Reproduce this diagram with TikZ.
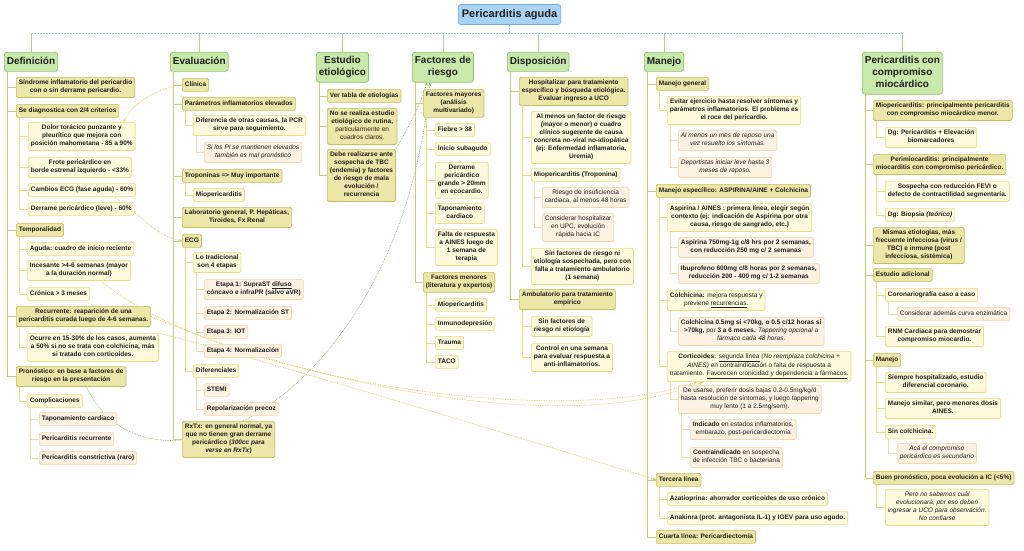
\documentclass[tikz,border=0pt]{standalone}
\usepackage{fontspec}
\setmainfont{Liberation Sans}
\usepackage{tikz}
\usetikzlibrary{arrows.meta}
\pgfdeclarelayer{back}
\pgfsetlayers{back,main}
\definecolor{rootF}{HTML}{A9D3F5}
\definecolor{rootB}{HTML}{6DAEE6}
\definecolor{catF}{HTML}{C8E9A9}
\definecolor{catB}{HTML}{8CC763}
\definecolor{lvAF}{HTML}{ECE6A8}
\definecolor{lvAB}{HTML}{C9BD5E}
\definecolor{lvBF}{HTML}{FFF9DD}
\definecolor{lvBB}{HTML}{F0DB7A}
\definecolor{lvCF}{HTML}{FDF2E2}
\definecolor{lvCB}{HTML}{F3D8AA}
\definecolor{hubC}{HTML}{9DC8E3}
\definecolor{stemC}{HTML}{A7D98A}
\definecolor{linkYC}{HTML}{E3CB4E}
\definecolor{linkGC}{HTML}{86BE55}
\definecolor{inkC}{HTML}{1E1E1E}
\tikzset{
  box/.style={rounded corners=1.5pt, line width=0.7pt, inner xsep=2.5pt, inner ysep=2.5pt, anchor=north west, align=center, text=inkC,
    font=\fontsize{6.5}{8}\selectfont\bfseries\strut},
  cat/.style={box, draw=catB, fill=catF, rounded corners=2.5pt, inner ysep=3.5pt, font=\fontsize{10}{12}\selectfont\bfseries\strut},
  lvA/.style={box, draw=lvAB, fill=lvAF},
  lvB/.style={box, draw=lvBB, fill=lvBF},
  lvC/.style={box, draw=lvCB, fill=lvCF},
  root/.style={box, anchor=center, draw=rootB, fill=rootF, rounded corners=2.5pt, inner xsep=3.5pt, inner ysep=3.5pt, font=\fontsize{11}{13}\selectfont\bfseries\strut},
  trunk/.style={draw=lvAB!85, line width=0.7pt},
  twig/.style={draw=lvBB, line width=0.7pt},
  leaf/.style={draw=lvCB, line width=0.7pt},
  hubline/.style={draw=hubC, line width=0.8pt, dash pattern=on 2pt off 1pt},
  catline/.style={draw=stemC, line width=0.8pt},
  linkY/.style={draw=linkYC, line width=0.7pt, densely dotted, -{Stealth[length=3.5pt,width=3pt]}},
  linkG/.style={draw=linkGC, line width=0.7pt, densely dotted, -{Stealth[length=3.5pt,width=3pt]}},
}
\begin{document}
\begin{tikzpicture}[x=1pt, y=-1pt]
\useasboundingbox (0,0) rectangle (1024,550);

% centro
\node[root] (pa) at (509.5,14.5) {Pericarditis aguda};

% ramas principales
\node[cat] (defi) at (4,52) {Definición};
\node[cat] (eval) at (170,52) {Evaluación};
\node[cat] (etio) at (316,52) {Estudio\\etiológico};
\node[cat] (facr) at (412,52) {Factores de\\riesgo};
\node[cat] (disp) at (507,52) {Disposición};
\node[cat] (mane) at (644,52) {Manejo};
\node[cat] (pcm) at (862,52) {Pericarditis con\\compromiso\\miocárdico};

\coordinate (hub) at (509.5,33);
\draw[hubline] (pa.south) -- (hub);
\draw[hubline] (defi.north |- hub) -- (pcm.north |- hub);
\draw[catline] (defi.north |- hub) -- (defi.north);
\draw[catline] (eval.north |- hub) -- (eval.north);
\draw[catline] (etio.north |- hub) -- (etio.north);
\draw[catline] (facr.north |- hub) -- (facr.north);
\draw[catline] (disp.north |- hub) -- (disp.north);
\draw[catline] (mane.north |- hub) -- (mane.north);
\draw[catline] (pcm.north |- hub) -- (pcm.north);

% Definicion
\node[lvA] (sind) at (16,77) {Síndrome inflamatorio del pericardio\\con o sin derrame pericardio.};
\node[lvA] (sedi) at (16,104) {Se diagnostica con 2/4 criterios};
\node[lvB] (dolo) at (28,122) {Dolor torácico punzante y\\pleurítico que mejora con\\posición mahometana - 85 a 90\%};
\node[lvB] (frot) at (28,157) {Frote pericárdico en\\borde estrenal izquierdo - <33\%};
\node[lvB] (cecg) at (28,183) {Cambios ECG (fase aguda) - 60\%};
\node[lvB] (derr) at (28,202) {Derrame pericárdico (leve) - 60\%};
\node[lvA] (temp) at (16,223) {Temporalidad};
\node[lvB] (agud) at (27,242) {Aguda: cuadro de inicio reciente};
\node[lvB] (ince) at (27,260) {Incesante >4-6 semanas (mayor\\a la duración normal)};
\node[lvB] (cron) at (27,287) {Crónica > 3 meses};
\node[lvA] (recu) at (16,306) {Recurrente: reaparición de una\\pericarditis curada luego de 4-6 semanas.};
\node[lvB] (ocur) at (27,333) {Ocurre en 15-30\% de los casos, aumenta\\a 50\% si no se trata con colchicina, más\\si tratado con corticoides.};
\node[lvA] (pron) at (16,366) {Pronóstico: en base a factores de\\riesgo en la presentación};
\node[lvB] (comp) at (27,394) {Complicaciones};
\node[lvC] (tapo) at (39,412) {Taponamiento cardiaco};
\node[lvC] (prec) at (39,432) {Pericarditis recurrente};
\node[lvC] (pcon) at (39,451) {Pericarditis constrictiva (raro)};

\draw[trunk] ([xshift=3pt]defi.south west) |- (sind.west);
\draw[trunk] ([xshift=3pt]defi.south west) |- (sedi.west);
\draw[trunk] ([xshift=3pt]defi.south west) |- (temp.west);
\draw[trunk] ([xshift=3pt]defi.south west) |- (recu.west);
\draw[trunk] ([xshift=3pt]defi.south west) |- (pron.west);
\draw[twig] ([xshift=3pt]sedi.south west) |- (dolo.west);
\draw[twig] ([xshift=3pt]sedi.south west) |- (frot.west);
\draw[twig] ([xshift=3pt]sedi.south west) |- (cecg.west);
\draw[twig] ([xshift=3pt]sedi.south west) |- (derr.west);
\draw[twig] ([xshift=3pt]temp.south west) |- (agud.west);
\draw[twig] ([xshift=3pt]temp.south west) |- (ince.west);
\draw[twig] ([xshift=3pt]temp.south west) |- (cron.west);
\draw[twig] ([xshift=3pt]recu.south west) |- (ocur.west);
\draw[twig] ([xshift=3pt]pron.south west) |- (comp.west);
\draw[leaf] ([xshift=3pt]comp.south west) |- (tapo.west);
\draw[leaf] ([xshift=3pt]comp.south west) |- (prec.west);
\draw[leaf] ([xshift=3pt]comp.south west) |- (pcon.west);

% Evaluacion
\node[lvA] (clin) at (182,78) {Clínica};
\node[lvA] (pinf) at (182,97) {Parámetros inflamatorios elevados};
\node[lvB] (dife) at (193,115) {Diferencia de otras causas, la PCR\\sirve para seguimiento.};
\node[lvC] (sipi) at (204,142) {\mdseries\itshape Si los PI se mantienen elevados\\\mdseries\itshape también es mal pronóstico};
\node[lvA] (trop) at (182,169) {Troponinas => Muy importante};
\node[lvB] (miop) at (193,188) {Miopericarditis};
\node[lvA] (labo) at (182,207) {Laboratorio general, P. Hepáticas,\\Tiroides, Fx Renal};
\node[lvA] (ecg) at (182,234) {ECG};
\node[lvB] (trad) at (193,252) {Lo tradicional\\son 4 etapas};
\node[lvC] (eta1) at (204,279) {Etapa 1: SupraST \underline{difuso}\\cóncavo e infraPR (salvo aVR)};
\node[lvC] (eta2) at (204,306) {Etapa 2: Normalización ST};
\node[lvC] (eta3) at (204,325) {Etapa 3: IOT};
\node[lvC] (eta4) at (204,344) {Etapa 4: Normalización};
\node[lvB] (difr) at (193,364) {Diferenciales};
\node[lvC] (stem) at (204,383) {STEMI};
\node[lvC] (repo) at (204,402) {Repolarización precoz};
\node[lvA] (rxtx) at (182,421) {RxTx: en general normal, ya\\que no tienen gran derrame\\pericárdico (\textit{300cc para}\\\textit{verse en RxTx})};

\draw[trunk] ([xshift=3pt]eval.south west) |- (clin.west);
\draw[trunk] ([xshift=3pt]eval.south west) |- (pinf.west);
\draw[trunk] ([xshift=3pt]eval.south west) |- (trop.west);
\draw[trunk] ([xshift=3pt]eval.south west) |- (labo.west);
\draw[trunk] ([xshift=3pt]eval.south west) |- (ecg.west);
\draw[trunk] ([xshift=3pt]eval.south west) |- (rxtx.west);
\draw[twig] ([xshift=3pt]pinf.south west) |- (dife.west);
\draw[leaf] ([xshift=3pt]dife.south west) |- (sipi.west);
\draw[twig] ([xshift=3pt]trop.south west) |- (miop.west);
\draw[twig] ([xshift=3pt]ecg.south west) |- (trad.west);
\draw[twig] ([xshift=3pt]ecg.south west) |- (difr.west);
\draw[leaf] ([xshift=3pt]trad.south west) |- (eta1.west);
\draw[leaf] ([xshift=3pt]trad.south west) |- (eta2.west);
\draw[leaf] ([xshift=3pt]trad.south west) |- (eta3.west);
\draw[leaf] ([xshift=3pt]trad.south west) |- (eta4.west);
\draw[leaf] ([xshift=3pt]difr.south west) |- (stem.west);
\draw[leaf] ([xshift=3pt]difr.south west) |- (repo.west);

% Estudio etiologico
\node[lvA] (vert) at (327,89) {Ver tabla de etiologías};
\node[lvA] (nose) at (327,108) {No se realiza estudio\\etiológico de rutina,\\\mdseries particularmente en\\\mdseries cuadros claros.};
\node[lvA] (debe) at (327,149) {Debe realizarse ante\\sospecha de TBC\\(endemia) y factores\\de riesgo de mala\\evolución /\\recurrencia};

\draw[trunk] ([xshift=3pt]etio.south west) |- (vert.west);
\draw[trunk] ([xshift=3pt]etio.south west) |- (nose.west);
\draw[trunk] ([xshift=3pt]etio.south west) |- (debe.west);

% Factores de riesgo
\node[lvA] (fmay) at (423,89) {Factores mayores\\(análisis\\multivariado)};
\node[lvB] (fieb) at (435,123) {Fiebre > 38};
\node[lvB] (inic) at (435,142) {Inicio subagudo};
\node[lvB] (dpgr) at (435,162) {Derrame\\pericárdico\\grande > 20mm\\en ecocardio.};
\node[lvB] (tapc) at (435,203) {Taponamiento\\cardiaco};
\node[lvB] (falt) at (435,229) {Falta de respuesta\\a AINES luego de\\1 semana de\\terapia};
\node[lvA] (fmen) at (423,272) {Factores menores\\(literatura y expertos)};
\node[lvB] (mioc) at (435,298) {Miopericarditis};
\node[lvB] (inmu) at (435,317) {Inmunodepresión};
\node[lvB] (trau) at (435,336) {Trauma};
\node[lvB] (taco) at (435,355) {TACO};

\draw[trunk] ([xshift=3pt]facr.south west) |- (fmay.west);
\draw[trunk] ([xshift=3pt]facr.south west) |- (fmen.west);
\draw[twig] ([xshift=3pt]fmay.south west) |- (fieb.west);
\draw[twig] ([xshift=3pt]fmay.south west) |- (inic.west);
\draw[twig] ([xshift=3pt]fmay.south west) |- (dpgr.west);
\draw[twig] ([xshift=3pt]fmay.south west) |- (tapc.west);
\draw[twig] ([xshift=3pt]fmay.south west) |- (falt.west);
\draw[twig] ([xshift=3pt]fmen.south west) |- (mioc.west);
\draw[twig] ([xshift=3pt]fmen.south west) |- (inmu.west);
\draw[twig] ([xshift=3pt]fmen.south west) |- (trau.west);
\draw[twig] ([xshift=3pt]fmen.south west) |- (taco.west);

% Disposicion
\node[lvA] (hosp) at (519,77) {Hospitalizar para tratamiento\\específico y búsqueda etiológica.\\Evaluar ingreso a UCO};
\node[lvB] (almn) at (531,111) {Al menos un factor de riesgo\\(mayor o menor) o cuadro\\clínico sugerente de causa\\concreta no-viral no-idiopática\\(ej: Enfermedad inflamatoria,\\Uremia)};
\node[lvB] (mtro) at (531,168) {Miopericarditis (Troponina)};
\node[lvC] (ries) at (542,187) {\mdseries Riesgo de insuficiencia\\\mdseries cardiaca, al menos 48 horas};
\node[lvC] (cons) at (542,213) {\mdseries Considerar hospitalizar\\\mdseries en UPC, evolución\\\mdseries rápida hacia IC};
\node[lvB] (sinf) at (531,248) {Sin factores de riesgo ni\\etiología sospechada, pero con\\falla a tratamiento ambulatorio\\(1 semana)};
\node[lvA] (ambu) at (519,289) {Ambulatorio para tratamiento\\empírico};
\node[lvB] (sfre) at (531,316) {Sin factores de\\riesgo ni etiología};
\node[lvB] (ctrl) at (531,343) {Control en una semana\\para evaluar respuesta a\\anti-inflamatorios.};

\draw[trunk] ([xshift=3pt]disp.south west) |- (hosp.west);
\draw[trunk] ([xshift=3pt]disp.south west) |- (ambu.west);
\draw[twig] ([xshift=3pt]hosp.south west) |- (almn.west);
\draw[twig] ([xshift=3pt]hosp.south west) |- (mtro.west);
\draw[twig] ([xshift=3pt]hosp.south west) |- (sinf.west);
\draw[leaf] ([xshift=3pt]mtro.south west) |- (ries.west);
\draw[leaf] ([xshift=3pt]mtro.south west) |- (cons.west);
\draw[twig] ([xshift=3pt]ambu.south west) |- (sfre.west);
\draw[twig] ([xshift=3pt]ambu.south west) |- (ctrl.west);

% Manejo
\node[lvA] (mgen) at (656,77) {Manejo general};
\node[lvB] (evit) at (667,96) {Evitar ejercicio hasta resolver síntomas y\\parámetros inflamatorios. El problema es\\el roce del pericardio.};
\node[lvC] (unme) at (678,130) {\mdseries\itshape Al menos un mes de reposo una\\\mdseries\itshape vez resuelto los síntomas.};
\node[lvC] (depo) at (678,157) {\mdseries\itshape Deportistas iniciar leve hasta 3\\\mdseries\itshape meses de reposo.};
\node[lvA] (mesp) at (656,184) {Manejo específico: ASPIRINA/AINE + Colchicina};
\node[lvB] (aspi) at (667,203) {Aspirina / AINES : primera línea, elegir según\\contexto (ej: indicación de Aspirina por otra\\causa, riesgo de sangrado, etc.)};
\node[lvC] (a750) at (678,237) {Aspirina 750mg-1g c/8 hrs por 2 semanas,\\con reducción 250 mg c/ 2 semanas};
\node[lvC] (ibup) at (678,263) {Ibuprofeno 600mg c/8 horas por 2 semanas,\\reducción 200 - 400 mg c/ 1-2 semanas};
\node[lvB] (colc) at (667,290) {Colchicina: {\mdseries mejora respuesta y}\\\mdseries previene \underline{recurrencias}.};
\node[lvC] (c05) at (678,317) {Colchicina 0.5mg si <70kg, o 0.5 c/12 horas si\\>70kg, {\mdseries por} 3 a 6 meses. {\mdseries\itshape Tappering opcional a}\\\mdseries\itshape fármaco cada 48 horas.};
\node[lvB] (cort) at (667,351) {Corticoides: {\mdseries\underline{segunda línea} \textit{(No reemplaza colchicina +}}\\\mdseries\textit{AINES)} en contraindicación o falta de respuesta a\\\mdseries tratamiento. \underline{Favorecen cronicidad y dependencia a fármacos}.};
\node[lvC] (dosi) at (678,385) {\mdseries De usarse, preferir dosis bajas 0.2-0.5mg/kg/d\\\mdseries hasta resolución de síntomas, y luego tappering\\\mdseries muy lento (1 a 2.5mg/sem).};
\node[lvC] (indi) at (690,419) {Indicado {\mdseries en estados inflamatorios,}\\\mdseries embarazo, post-pericardiectomía};
\node[lvC] (cind) at (690,447) {Contraindicado {\mdseries en sospecha}\\\mdseries de infección TBC o bacteriana};
\node[lvA] (terc) at (656,473) {Tercera línea};
\node[lvB] (azat) at (667,492) {Azatioprina: ahorrador corticoides de uso crónico};
\node[lvB] (anak) at (667,511) {Anakinra (prot. antagonista IL-1) y IGEV para uso agudo.};
\node[lvA] (cuar) at (656,530) {Cuarta línea: Pericardiectomía};

\draw[trunk] ([xshift=3pt]mane.south west) |- (mgen.west);
\draw[trunk] ([xshift=3pt]mane.south west) |- (mesp.west);
\draw[trunk] ([xshift=3pt]mane.south west) |- (terc.west);
\draw[trunk] ([xshift=3pt]mane.south west) |- (cuar.west);
\draw[twig] ([xshift=3pt]mgen.south west) |- (evit.west);
\draw[leaf] ([xshift=3pt]evit.south west) |- (unme.west);
\draw[leaf] ([xshift=3pt]evit.south west) |- (depo.west);
\draw[twig] ([xshift=3pt]mesp.south west) |- (aspi.west);
\draw[twig] ([xshift=3pt]mesp.south west) |- (colc.west);
\draw[twig] ([xshift=3pt]mesp.south west) |- (cort.west);
\draw[leaf] ([xshift=3pt]aspi.south west) |- (a750.west);
\draw[leaf] ([xshift=3pt]aspi.south west) |- (ibup.west);
\draw[leaf] ([xshift=3pt]colc.south west) |- (c05.west);
\draw[leaf] ([xshift=3pt]cort.south west) |- (dosi.west);
\draw[leaf] ([xshift=3pt]dosi.south west) |- (indi.west);
\draw[leaf] ([xshift=3pt]dosi.south west) |- (cind.west);
\draw[twig] ([xshift=3pt]terc.south west) |- (azat.west);
\draw[twig] ([xshift=3pt]terc.south west) |- (anak.west);

% Pericarditis con compromiso miocardico
\node[lvA] (miop2) at (873,100) {Miopericarditis: principalmente pericarditis\\con compromiso miocárdico menor.};
\node[lvB] (dgpe) at (885,127) {Dg: Pericarditis + Elevación\\biomarcadores};
\node[lvA] (peri2) at (873,154) {Perimiocarditis: principalmente\\miocarditis con compromiso pericárdico.};
\node[lvB] (sosp) at (885,181) {Sospecha con reducción FEVI o\\defecto de contractilidad segmentaría.};
\node[lvB] (dgbi) at (885,208) {Dg: Biopsia \textit{(teórico)}};
\node[lvA] (mism) at (873,227) {Mismas etiologías, más\\frecuente infecciosa (virus /\\TBC) e inmune (post\\infecciosa, sistémica)};
\node[lvA] (esad) at (873,268) {Estudio adicional};
\node[lvB] (coro) at (885,288) {Coronariografía caso a caso};
\node[lvC] (cenz) at (897,307) {\mdseries Considerar además curva enzimática};
\node[lvB] (rnmc) at (885,326) {RNM Cardiaca para demostrar\\compromiso miocardio.};
\node[lvA] (mnj2) at (873,353) {Manejo};
\node[lvB] (siem) at (885,372) {Siempre hospitalizado, estudio\\diferencial coronario.};
\node[lvB] (msim) at (885,398) {Manejo similar, pero menores dosis\\AINES.};
\node[lvB] (sinc) at (885,425) {Sin colchicina.};
\node[lvC] (acae) at (897,443) {\mdseries\itshape Acá el compromiso\\\mdseries\itshape pericárdico es secundario};
\node[lvA] (buen) at (873,471) {Buen pronóstico, poca evolución a IC (<5\%)};
\node[lvB] (pero) at (885,489) {\mdseries\itshape Pero no sabemos cuál\\\mdseries\itshape evolucionará, por eso deben\\\mdseries\itshape ingresar a UCO para observación.\\\mdseries\itshape No confiarse};

\draw[trunk] ([xshift=3pt]pcm.south west) |- (miop2.west);
\draw[trunk] ([xshift=3pt]pcm.south west) |- (peri2.west);
\draw[trunk] ([xshift=3pt]pcm.south west) |- (mism.west);
\draw[trunk] ([xshift=3pt]pcm.south west) |- (esad.west);
\draw[trunk] ([xshift=3pt]pcm.south west) |- (mnj2.west);
\draw[trunk] ([xshift=3pt]pcm.south west) |- (buen.west);
\draw[twig] ([xshift=3pt]miop2.south west) |- (dgpe.west);
\draw[twig] ([xshift=3pt]peri2.south west) |- (sosp.west);
\draw[twig] ([xshift=3pt]peri2.south west) |- (dgbi.west);
\draw[twig] ([xshift=3pt]esad.south west) |- (coro.west);
\draw[twig] ([xshift=3pt]esad.south west) |- (rnmc.west);
\draw[leaf] ([xshift=3pt]coro.south west) |- (cenz.west);
\draw[twig] ([xshift=3pt]mnj2.south west) |- (siem.west);
\draw[twig] ([xshift=3pt]mnj2.south west) |- (msim.west);
\draw[twig] ([xshift=3pt]mnj2.south west) |- (sinc.west);
\draw[leaf] ([xshift=3pt]sinc.south west) |- (acae.west);
\draw[twig] ([xshift=3pt]buen.south west) |- (pero.west);

% relaciones
\begin{pgfonlayer}{back}
\fill[white] (0,0) rectangle (1024,550);
\draw[linkY] (clin.west) .. controls (160,88) and (135,100) .. ([xshift=-12pt]dolo.north east);
\draw[linkY] ([xshift=-22pt]cecg.south east) .. controls (140,215) and (160,238) .. (ecg.west);
\draw[linkY] ([xshift=-30pt]ince.south east) .. controls (220,380) and (560,430) .. ([xshift=30pt]cort.south west);
\draw[linkY] (recu.east) .. controls (300,380) and (560,440) .. ([xshift=36pt]cort.south west);
\draw[linkY] (ocur.north east) .. controls (300,370) and (560,450) .. (terc.west);
\draw[linkG] ([xshift=-40pt]pron.south east) .. controls (150,520) and (400,400) .. ([xshift=18pt]facr.south west);
\draw[linkG] (debe.north east) .. controls (410,125) and (422,100) .. ([xshift=15pt]facr.south west);
\end{pgfonlayer}
\end{tikzpicture}
\end{document}
